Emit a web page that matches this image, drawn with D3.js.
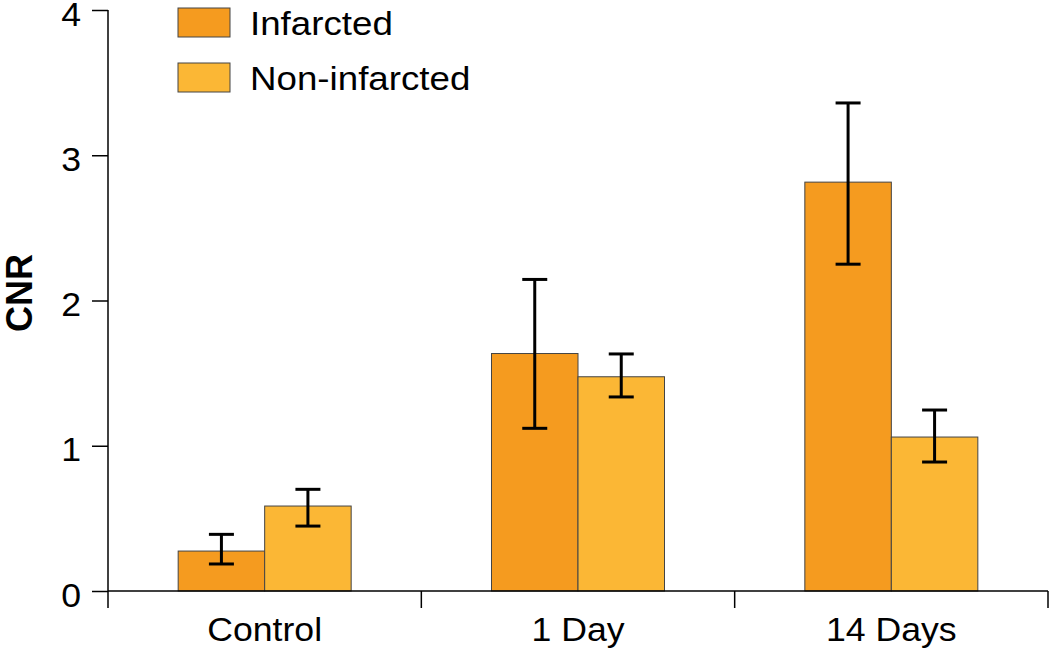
<!DOCTYPE html>
<html><head><meta charset="utf-8">
<script src="https://cdn.jsdelivr.net/npm/d3@7"></script>
<style>body{margin:0;background:#fff}svg{display:block}text{font-family:"Liberation Sans",Arial,sans-serif}</style>
</head><body>
<svg id="c" width="1050" height="649"></svg>
<script>
const categories = ["Control", "1 Day", "14 Days"];
const seriesNames = ["Infarcted", "Non-infarcted"];
const infarcted = [0.275, 1.635, 2.815];
const infarctedLow = [0.186, 1.12, 2.25];
const infarctedHigh = [0.39, 2.145, 3.36];
const nonInfarcted = [0.585, 1.475, 1.06];
const nonInfarctedLow = [0.447, 1.336, 0.888];
const nonInfarctedHigh = [0.70, 1.632, 1.246];
const yTicks = [0, 1, 2, 3, 4];
const colors = ["#F59B1F", "#FBB735"];

const FS = 33, SX = 1.08;
const svg = d3.select("#c");
const x0 = 108, x1 = 1048, yTop = 10, yBot = 591;
const x = d3.scaleBand().domain(categories).range([x0, x1]).padding(0);
const y = d3.scaleLinear().domain([0, 4]).range([yBot, yTop]);
const barW = 86.5;
const xs = d3.scaleBand().domain(seriesNames).range([0, barW * 2]);

const series = [
  {name: seriesNames[0], vals: infarcted, lo: infarctedLow, hi: infarctedHigh, color: colors[0]},
  {name: seriesNames[1], vals: nonInfarcted, lo: nonInfarctedLow, hi: nonInfarctedHigh, color: colors[1]}
];

// y axis
const yAxis = d3.axisLeft(y).tickValues(yTicks).tickSize(16).tickPadding(0).tickFormat(d3.format("d"));
const gy = svg.append("g").attr("transform", `translate(${x0},0)`).call(yAxis);
gy.select(".domain").attr("d", `M0,${yTop}V${yBot}`).attr("stroke", "#000").attr("stroke-width", 1.5);
gy.selectAll(".tick line").attr("stroke", "#000").attr("stroke-width", 1.5);
gy.selectAll(".tick text").attr("x", null).attr("dy", null)
  .attr("transform", `translate(-27,15) scale(${SX},1)`)
  .attr("font-size", FS).attr("fill", "#000").attr("font-family", "Liberation Sans, Arial, sans-serif");

// bars
series.forEach(s => {
  svg.append("g").selectAll("rect").data(categories).join("rect")
    .attr("x", c => x(c) + x.bandwidth() / 2 - barW + xs(s.name))
    .attr("y", (c, i) => y(s.vals[i]))
    .attr("width", xs.bandwidth())
    .attr("height", (c, i) => y(0) - y(s.vals[i]))
    .attr("fill", s.color).attr("stroke", "#444").attr("stroke-width", 1);
});

// x axis
const gx = svg.append("g").attr("transform", `translate(0,${yBot})`);
gx.append("line").attr("x1", x0).attr("x2", x1).attr("stroke", "#000").attr("stroke-width", 1.5);
const bounds = categories.map(c => x(c)).concat([x1]);
gx.selectAll("line.tk").data(bounds).join("line").attr("class", "tk")
  .attr("x1", d => d).attr("x2", d => d).attr("y1", 0).attr("y2", 17)
  .attr("stroke", "#000").attr("stroke-width", 1.5);
gx.selectAll("text").data(categories).join("text")
  .attr("transform", c => `translate(${x(c) + x.bandwidth() / 2},50) scale(${SX},1)`)
  .attr("text-anchor", "middle").attr("font-size", FS).attr("fill", "#000").text(c => c);

// error bars
const cap = 12.5;
series.forEach(s => {
  const g = svg.append("g");
  categories.forEach((c, i) => {
    const cx = x(c) + x.bandwidth() / 2 - barW + xs(s.name) + xs.bandwidth() / 2;
    g.append("line").attr("x1", cx).attr("x2", cx).attr("y1", y(s.lo[i])).attr("y2", y(s.hi[i])).attr("stroke", "#000").attr("stroke-width", 3);
    [s.lo[i], s.hi[i]].forEach(v => g.append("line").attr("x1", cx - cap).attr("x2", cx + cap).attr("y1", y(v)).attr("y2", y(v)).attr("stroke", "#000").attr("stroke-width", 3));
  });
});

// y label
svg.append("text").attr("transform", `translate(32,293) rotate(-90)`)
  .attr("text-anchor", "middle").attr("font-size", 36).attr("font-weight", "bold").attr("fill", "#000").text("CNR");

// legend
const lg = svg.append("g");
series.forEach((s, i) => {
  const ly = 8 + i * 55;
  lg.append("rect").attr("x", 178).attr("y", ly).attr("width", 52).attr("height", 29).attr("fill", s.color).attr("stroke", "#444").attr("stroke-width", 1);
  lg.append("text").attr("transform", `translate(250,${ly + 27}) scale(${SX},1)`).attr("font-size", 34).attr("fill", "#000").text(s.name);
});
</script>
</body></html>
